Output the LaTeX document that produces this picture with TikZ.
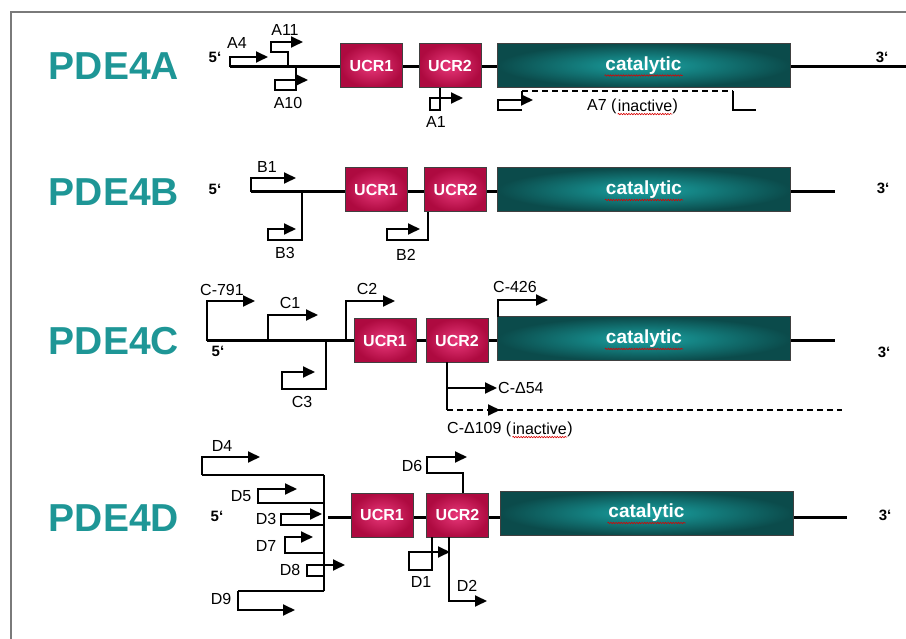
\documentclass[tikz,border=0pt]{standalone}
\usepackage{fontspec}
\setmainfont{Liberation Sans}
\usetikzlibrary{arrows.meta,positioning,decorations.pathmorphing}

\definecolor{ucrDark}{HTML}{AE0A40}
\definecolor{ucrLight}{HTML}{E8387A}
\definecolor{catDark}{HTML}{0B4B4B}
\definecolor{catLight}{HTML}{1AA3A3}
\definecolor{geneTeal}{HTML}{1E9696}
\definecolor{frameGrey}{HTML}{7A7A7A}

\begin{document}
\begin{tikzpicture}[x=1pt, y=-1pt,
    % Style for the UCR domains
    ucrBox/.style={
        draw=black!75,
        line width=1pt,
        shading=radial,
        inner color=ucrLight,
        outer color=ucrDark,
        minimum width=62pt,
        minimum height=44pt,
        inner sep=0pt,
        text=white,
        font=\bfseries\fontsize{16}{16}\selectfont
    },
    % Style for the catalytic domain
    catBox/.style={
        ucrBox,
        inner color=catLight,
        outer color=catDark,
        minimum width=293pt,
        font=\bfseries\fontsize{19}{19}\selectfont
    },
    % Style for the gene names
    geneLabel/.style={
        text=geneTeal,
        font=\bfseries\fontsize{39}{39}\selectfont
    },
    % Style for the isoform labels
    isoLabel/.style={
        inner sep=1pt,
        font=\fontsize{16}{16}\selectfont
    },
    % Style for the 5' and 3' ends
    endLabel/.style={
        font=\bfseries\fontsize{15}{15}\selectfont
    },
    % Lines
    backbone/.style={line width=3pt},
    promLine/.style={line width=1.8pt},
    promArrow/.style={promLine, -{Triangle[length=12pt,width=11pt]}},
    dashLine/.style={promLine, dash pattern=on 6pt off 4pt},
    spellWave/.style={
        red!85!black,
        line width=0.6pt,
        decorate,
        decoration={snake, amplitude=0.7pt, segment length=2.6pt}
    },
    frameLine/.style={frameGrey, line width=1.5pt}
]

    \useasboundingbox (0,0) rectangle (906,639);
    \draw[frameLine] (11,639) -- (11,12) -- (906,12);

    % --- GENE NAMES ---
    \node[geneLabel] (pdeA) at (114,66) {PDE4A};
    \node[geneLabel] (pdeB) at (114,192) {PDE4B};
    \node[geneLabel] (pdeC) at (114,341) {PDE4C};
    \node[geneLabel] (pdeD) at (114,518) {PDE4D};

    % --- PDE4A ---
    \coordinate (startA) at (230,67);
    \coordinate (endA) at (906,67);
    \draw[backbone] (startA) -- (endA);
    \node[ucrBox] (ucr1A) at (371.5,65.5) {UCR1};
    \node[ucrBox] (ucr2A) at (450,65.5) {UCR2};
    \node[catBox] (catA) at (643.5,65.5) {catalytic};
    \draw[spellWave] ([xshift=-39pt,yshift=-10pt]catA.center) -- ([xshift=39pt,yshift=-10pt]catA.center);
    \node[endLabel] (fiveA) at (215,57) {5‘};
    \node[endLabel] (threeA) at (882,57) {3‘};

    \draw[promArrow] (startA) |- (268,57);
    \draw[promArrow] (288,67) -- (288,52) -- (271,52) -- (271,42) -- (303,42);
    \draw[promArrow] (296,67) -- (296,90) -- (275,90) -- (275,80) -- (308,80);
    \draw[promArrow] (440,88) -- (440,110) -- (430,110) -- (430,98) -- (463,98);
    \draw[promArrow] (522,110) -- (498,110) -- (498,100) -- (533,100);
    \draw[promLine] (522,100) -- (522,91);
    \draw[dashLine] (522,91) -- (733,91);
    \draw[promLine] (733,91) -- (733,110) -- (756,110);

    \node[isoLabel] (labA4) at (237,43) {A4};
    \node[isoLabel] (labA11) at (285,30) {A11};
    \node[isoLabel] (labA10) at (288,103) {A10};
    \node[isoLabel] (labA1) at (436,122) {A1};
    \node[isoLabel, anchor=west] (labA7) at (586,106) {A7 (};
    \node[isoLabel, anchor=west, inner xsep=0pt] (labA7w) at (labA7.east) {inactive};
    \node[isoLabel, anchor=west, inner xsep=0pt] (labA7e) at (labA7w.east) {)};
    \draw[spellWave] ([yshift=-1pt]labA7w.south west) -- ([yshift=-1pt]labA7w.south east);

    % --- PDE4B ---
    \coordinate (startB) at (251,192);
    \coordinate (endB) at (835,192);
    \draw[backbone] (startB) -- (endB);
    \node[ucrBox] (ucr1B) at (376,190) {UCR1};
    \node[ucrBox] (ucr2B) at (455.5,190) {UCR2};
    \node[catBox] (catB) at (644,190) {catalytic};
    \draw[spellWave] ([xshift=-39pt,yshift=-10pt]catB.center) -- ([xshift=39pt,yshift=-10pt]catB.center);
    \node[endLabel] (fiveB) at (215,189) {5‘};
    \node[endLabel] (threeB) at (883,188) {3‘};

    \draw[promArrow] (startB) |- (296,178);
    \draw[promArrow] (302,192) -- (302,240) -- (268,240) -- (268,229) -- (296,229);
    \draw[promArrow] (428,212) -- (428,240) -- (387,240) -- (387,229) -- (420,229);

    \node[isoLabel] (labB1) at (267,167) {B1};
    \node[isoLabel] (labB3) at (285,253) {B3};
    \node[isoLabel] (labB2) at (406,255) {B2};

    % --- PDE4C ---
    \coordinate (startC) at (207,341);
    \coordinate (endC) at (835,341);
    \draw[backbone] (startC) -- (endC);
    \node[ucrBox] (ucr1C) at (385,340.5) {UCR1};
    \node[ucrBox] (ucr2C) at (457,340.5) {UCR2};
    \node[catBox] (catC) at (644,339) {catalytic};
    \draw[spellWave] ([xshift=-39pt,yshift=-10pt]catC.center) -- ([xshift=39pt,yshift=-10pt]catC.center);
    \node[endLabel] (fiveC) at (218,351) {5‘};
    \node[endLabel] (threeC) at (884,352) {3‘};

    \draw[promArrow] (startC) |- (255,301);
    \draw[promArrow] (268,341) |- (318,315);
    \draw[promArrow] (326,341) -- (326,389) -- (282,389) -- (282,372) -- (315,372);
    \draw[promArrow] (346,341) |- (395,301);
    \draw[promArrow] (498,317) |- (548,300);
    \draw[promLine] (447,362) -- (447,410);
    \draw[promArrow] (447,388) -- (497,388);
    \draw[dashLine] (447,410) -- (842,410);
    \draw[promArrow, dash pattern=on 6pt off 4pt] (447,410) -- (500,410);

    \node[isoLabel] (labC791) at (222,290) {C-791};
    \node[isoLabel] (labC1) at (290,303) {C1};
    \node[isoLabel] (labC3) at (302,402) {C3};
    \node[isoLabel] (labC2) at (367,289) {C2};
    \node[isoLabel] (labC426) at (515,287) {C-426};
    \node[isoLabel, anchor=west] (labC54) at (497,388) {C-Δ54};
    \node[isoLabel, anchor=west] (labC109) at (446,429) {C-Δ109 (};
    \node[isoLabel, anchor=west, inner xsep=0pt] (labC109w) at (labC109.east) {inactive};
    \node[isoLabel, anchor=west, inner xsep=0pt] (labC109e) at (labC109w.east) {)};
    \draw[spellWave] ([yshift=-1pt]labC109w.south west) -- ([yshift=-1pt]labC109w.south east);

    % --- PDE4D ---
    \coordinate (startD) at (328,517);
    \coordinate (endD) at (847,517);
    \draw[backbone] (startD) -- (endD);
    \node[ucrBox] (ucr1D) at (382,515) {UCR1};
    \node[ucrBox] (ucr2D) at (457.5,515) {UCR2};
    \node[catBox] (catD) at (646.5,513) {catalytic};
    \draw[spellWave] ([xshift=-39pt,yshift=-10pt]catD.center) -- ([xshift=39pt,yshift=-10pt]catD.center);
    \node[endLabel] (fiveD) at (217,516) {5‘};
    \node[endLabel] (threeD) at (885,515) {3‘};

    \draw[promLine] (324,475) -- (324,591);
    \draw[line width=2.6pt] (324,475) -- (202,475);
    \draw[line width=2.6pt] (324,591) -- (238,591);
    \draw[promArrow] (202,475) |- (260,457);
    \draw[promArrow] (324,503) -- (258,503) -- (258,489) -- (297,489);
    \draw[promArrow] (324,525) -- (281,525) -- (281,514) -- (322,514);
    \draw[promArrow] (324,553) -- (285,553) -- (285,537) -- (313,537);
    \draw[promArrow] (324,576) -- (307,576) -- (307,565) -- (345,565);
    \draw[promArrow] (238,591) |- (295,610);
    \draw[promArrow] (463,493) -- (463,473) -- (427,473) -- (427,457) -- (467,457);
    \draw[promArrow] (432,537) -- (432,570) -- (409,570) -- (409,552) -- (450,552);
    \draw[promArrow] (449,537) |- (487,601);

    \node[isoLabel] (labD4) at (222,446) {D4};
    \node[isoLabel] (labD5) at (241,496) {D5};
    \node[isoLabel] (labD3) at (266,519) {D3};
    \node[isoLabel] (labD7) at (266,546) {D7};
    \node[isoLabel] (labD8) at (290,570) {D8};
    \node[isoLabel] (labD9) at (221,599) {D9};
    \node[isoLabel] (labD6) at (412,466) {D6};
    \node[isoLabel] (labD1) at (421,582) {D1};
    \node[isoLabel] (labD2) at (467,586) {D2};

\end{tikzpicture}
\end{document}
